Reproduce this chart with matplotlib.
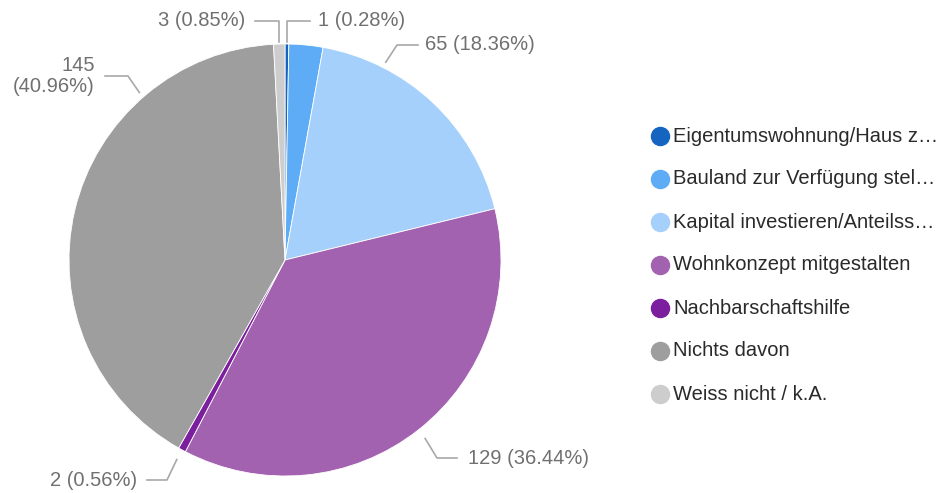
import numpy as np
import matplotlib.pyplot as plt

plt.rcParams['font.family'] = ['Liberation Sans', 'DejaVu Sans']

categories = [
    "Eigentumswohnung/Haus z…",
    "Bauland zur Verfügung stel…",
    "Kapital investieren/Anteilss…",
    "Wohnkonzept mitgestalten",
    "Nachbarschaftshilfe",
    "Nichts davon",
    "Weiss nicht / k.A.",
]
counts = [1, 9, 65, 129, 2, 145, 3]
colors = ["#1565c0", "#5eacf6", "#a5d0fb", "#a262b0", "#7b1f9e", "#9e9e9e", "#cdcdcd"]

# label placement (pixels, y from top):
# text x, text y, ha, elbow x, line end x, anchor angle override (deg from top, clockwise)
label_layout = {
    0: (318, 21, "left", None, 310, None),
    2: (425, 45, "left", 397, 418, 27),
    3: (468, 458, "left", 437, 457, None),
    4: (137, 480, "right", 167, 147, None),
    5: (95, 76, "right", 128, 105, 319),
    6: (245, 21, "right", None, 255, None),
}

W, H = 943, 493
cx, cy, r = 285, 260, 216

fig = plt.figure(figsize=(W / 100, H / 100), dpi=100)
ax = fig.add_axes([0, 0, 1, 1])

wedges, _ = ax.pie(counts, colors=colors, startangle=90, counterclock=False,
                   center=(cx, H - cy), radius=r,
                   wedgeprops=dict(linewidth=0.6, edgecolor="white"))

ax.set_xlim(0, W)
ax.set_ylim(0, H)
ax.set_aspect("equal")
ax.axis("off")

total = sum(counts)
lc = "#a8a8a8"
for i, (tx, ty, ha, ex, endx, a_over) in label_layout.items():
    w = wedges[i]
    ang = np.deg2rad((w.theta1 + w.theta2) / 2)
    if a_over is not None:
        ang = np.deg2rad(90 - a_over)
    ey = H - ty
    if ex is None:
        # vertical up from the top edge, then sideways
        px = cx + r * np.cos(ang)
        py = (H - cy) + r * np.sin(ang)
        ax.plot([px, px, endx], [py + 2, ey, ey], color=lc, lw=1.2)
    else:
        rr = r + 6 if a_over is not None else r + 11
        px = cx + rr * np.cos(ang)
        py = (H - cy) + rr * np.sin(ang)
        ax.plot([px, ex, endx], [py, ey, ey], color=lc, lw=1.2)
    pct = 100 * counts[i] / total
    if i == 5:
        txt = f"{counts[i]}\n({pct:.2f}%)"
    else:
        txt = f"{counts[i]} ({pct:.2f}%)"
    ax.text(tx, ey, txt, ha=ha, va="center", fontsize=14.5, color="#707070",
            linespacing=1.1)

# legend
leg_y0, leg_dy = 136, 43
for i, (name, col) in enumerate(zip(categories, colors)):
    y = H - (leg_y0 + i * leg_dy)
    ax.plot(660, y, "o", ms=13, color=col)
    ax.text(673, y, name, ha="left", va="center", fontsize=14.5, color="#2a2a2a")

fig.savefig("out.png", dpi=100)
